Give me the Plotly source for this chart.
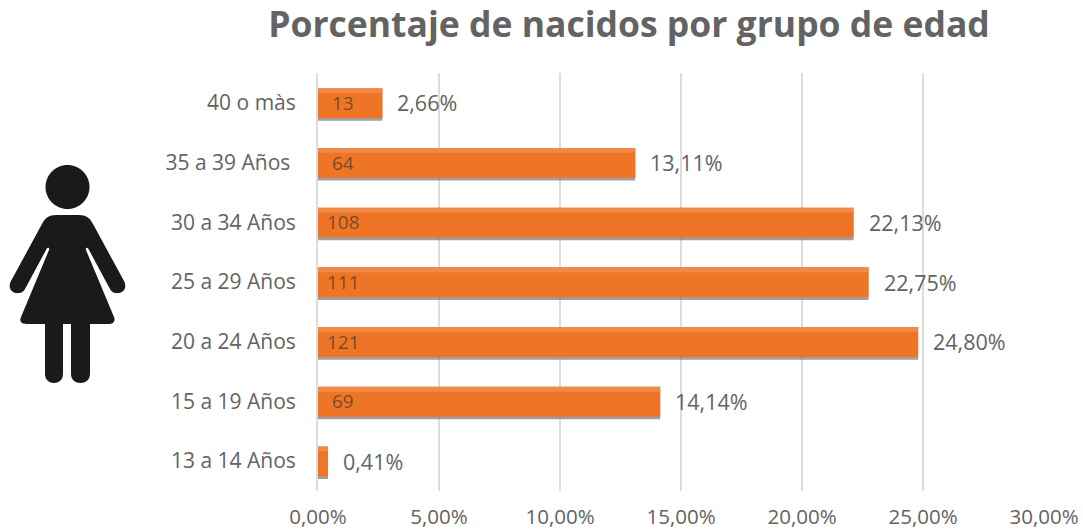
import plotly.graph_objects as go

categories = ["13 a 14 Años", "15 a 19 Años", "20 a 24 Años", "25 a 29 Años", "30 a 34 Años", "35 a 39 Años ", "40 o màs"]
counts = [2, 69, 121, 111, 108, 64, 13]
percents = [0.41, 14.14, 24.80, 22.75, 22.13, 13.11, 2.66]
percent_labels = ["0,41%", "14,14%", "24,80%", "22,75%", "22,13%", "13,11%", "2,66%"]
x_ticks = [0, 5, 10, 15, 20, 25, 30]
x_tick_labels = ["0,00%", "5,00%", "10,00%", "15,00%", "20,00%", "25,00%", "30,00%"]
title_text = "Porcentaje de nacidos por grupo de edad"

W, H = 1083, 531
L, R, T, B = 318, 39, 73, 40
GREY = "#636363"
FONT = "Open Sans"

def px(x): return (x - L) / (W - L - R)
def py(y): return 1 - (y - T) / (H - T - B)

def path(cmds):
    out = []
    for c in cmds:
        if c[0] == "Z":
            out.append("Z")
        else:
            pts = " ".join(f"{px(c[i]):.5f},{py(c[i+1]):.5f}" for i in range(1, len(c), 2))
            out.append(c[0] + pts)
    return " ".join(out)

fig = go.Figure()
y_pos = list(range(len(categories)))

# soft shadow, main bar, top highlight
fig.add_bar(y=y_pos, x=percents, orientation="h", width=0.5, offset=-0.30,
            marker=dict(color="#7f7f7f", line_width=0), opacity=0.75, hoverinfo="skip")
fig.add_bar(y=y_pos, x=percents, orientation="h", width=0.5, offset=-0.255,
            marker=dict(color="#EF7526", line_width=0), hoverinfo="skip")
fig.add_bar(y=y_pos, x=percents, orientation="h", width=0.08, offset=0.165,
            marker=dict(color="#F18A48", line_width=0), hoverinfo="skip")

annotations = []
for i, (c, p, lab) in enumerate(zip(counts, percents, percent_labels)):
    annotations.append(dict(x=p, y=i, xref="x", yref="y", text=lab, showarrow=False,
                            xanchor="left", xshift=13, font=dict(family=FONT, size=21.5, color=GREY)))
    if p > 1:
        annotations.append(dict(x=0, y=i, xref="x", yref="y", text=str(c), showarrow=False,
                                xanchor="center", xshift=25, font=dict(family=FONT, size=19, color="#7A4A2A")))

body = path([
    ("M", 56, 215), ("L", 79, 215), ("C", 86, 215, 90, 218, 93, 224),
    ("L", 124, 281), ("C", 128, 289, 122, 294, 116, 293), ("C", 113, 293, 111, 291, 110, 289),
    ("L", 89, 250), ("C", 88, 247, 85, 247, 86, 250),
    ("L", 114, 317), ("C", 116, 322, 112, 324, 109, 324),
    ("L", 90, 324), ("L", 90, 374), ("C", 90, 386, 71, 386, 71, 374), ("L", 71, 324),
    ("L", 63, 324), ("L", 63, 374), ("C", 63, 386, 45, 386, 45, 374), ("L", 45, 324),
    ("L", 26, 324), ("C", 22, 324, 19, 322, 21, 317),
    ("L", 49, 250), ("C", 50, 247, 47, 247, 46, 250),
    ("L", 25, 289), ("C", 24, 291, 22, 293, 19, 293), ("C", 13, 294, 7, 289, 11, 281),
    ("L", 42, 224), ("C", 45, 218, 49, 215, 56, 215), ("Z",),
])
k = 22 * 0.5523
cx, cy, r = 67.5, 187, 22
head = path([
    ("M", cx - r, cy), ("C", cx - r, cy - k, cx - k, cy - r, cx, cy - r),
    ("C", cx + k, cy - r, cx + r, cy - k, cx + r, cy),
    ("C", cx + r, cy + k, cx + k, cy + r, cx, cy + r),
    ("C", cx - k, cy + r, cx - r, cy + k, cx - r, cy), ("Z",),
])
shapes = [dict(type="path", xref="paper", yref="paper", path=d, fillcolor="#1a1a1a", line_width=0)
          for d in (body, head)]

fig.update_layout(
    width=W, height=H, autosize=False,
    margin=dict(l=L, r=R, t=T, b=B, autoexpand=False),
    paper_bgcolor="white", plot_bgcolor="white",
    barmode="overlay", showlegend=False,
    title=dict(text=f"<b>{title_text}</b>", x=629 / W, xanchor="center", y=1 - 25 / H, yanchor="middle",
               automargin=False, font=dict(family=FONT, size=35.5, color=GREY)),
    xaxis=dict(range=[0, 30], tickvals=x_ticks, ticktext=x_tick_labels, showgrid=True, automargin=False,
               gridcolor="#dcdcdc", gridwidth=2, zeroline=False, showline=False, ticks="",
               ticklabelstandoff=11, tickfont=dict(family=FONT, size=20.5, color=GREY)),
    yaxis=dict(range=[-0.5, 6.5], tickvals=y_pos, ticktext=categories, showgrid=False, automargin=False,
               zeroline=False, showline=True, linecolor="#dcdcdc", linewidth=2, ticks="", ticklen=0,
               ticklabelstandoff=16, tickfont=dict(family=FONT, size=21, color=GREY)),
    annotations=annotations, shapes=shapes,
)
fig.write_html("out.html", config={"displayModeBar": False},
               post_script="document.body.style.margin='0';document.documentElement.style.overflow='hidden';")
